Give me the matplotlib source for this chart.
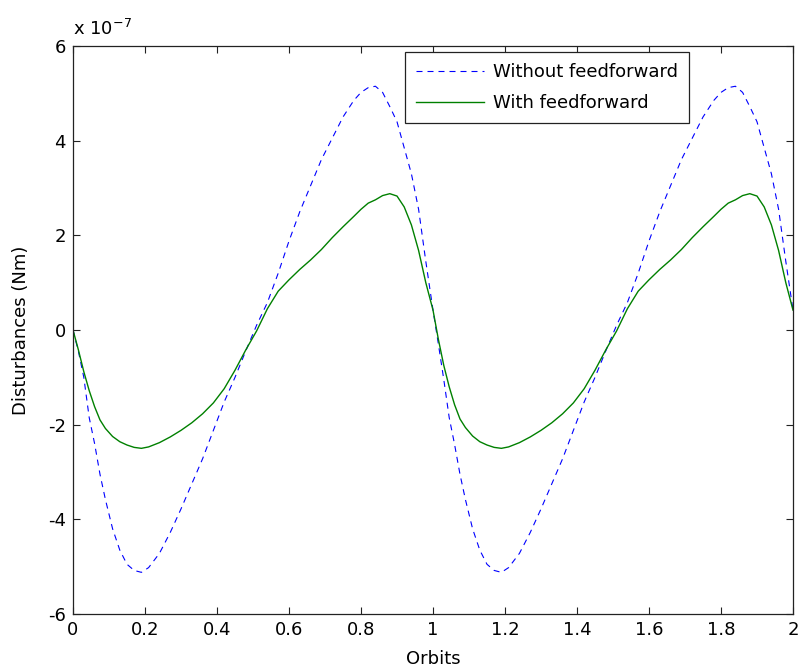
import numpy as np
import matplotlib
matplotlib.use("Agg")
import matplotlib.pyplot as plt
from matplotlib.ticker import FuncFormatter

# Orbit positions (shared by both curves)
orbits = [
    0.00, 0.015, 0.03, 0.045, 0.06, 0.075, 0.09, 0.11, 0.13, 0.15, 0.17, 0.19,
    0.21, 0.24, 0.27, 0.30, 0.33, 0.36, 0.39, 0.42, 0.45, 0.48, 0.51, 0.54,
    0.57, 0.60, 0.63, 0.66, 0.69, 0.72, 0.75, 0.78, 0.80, 0.82, 0.84, 0.86,
    0.88, 0.90, 0.92, 0.94, 0.96, 0.98, 1.00,
    1.015, 1.03, 1.045, 1.06, 1.075, 1.09, 1.11, 1.13, 1.15, 1.17, 1.19,
    1.21, 1.24, 1.27, 1.30, 1.33, 1.36, 1.39, 1.42, 1.45, 1.48, 1.51, 1.54,
    1.57, 1.60, 1.63, 1.66, 1.69, 1.72, 1.75, 1.78, 1.80, 1.82, 1.84, 1.86,
    1.88, 1.90, 1.92, 1.94, 1.96, 1.98, 2.00,
]

# Disturbance torque in units of 1e-7 Nm
without_ff = [
    0.00, -0.45, -1.00, -1.85, -2.40, -3.05, -3.58, -4.20, -4.65, -4.95, -5.08, -5.12,
    -5.02, -4.72, -4.28, -3.78, -3.25, -2.72, -2.12, -1.52, -1.00, -0.44, 0.10, 0.58,
    1.20, 1.88, 2.50, 3.05, 3.60, 4.05, 4.50, 4.85, 5.02, 5.12, 5.15, 5.02,
    4.72, 4.40, 3.85, 3.30, 2.55, 1.45, 0.42,
    -0.30, -1.05, -1.85, -2.42, -3.05, -3.58, -4.20, -4.65, -4.95, -5.08, -5.12,
    -5.02, -4.72, -4.28, -3.78, -3.25, -2.72, -2.12, -1.52, -1.00, -0.44, 0.10, 0.58,
    1.20, 1.88, 2.50, 3.05, 3.60, 4.05, 4.50, 4.85, 5.02, 5.12, 5.15, 5.02,
    4.72, 4.40, 3.85, 3.30, 2.55, 1.45, 0.42,
]

with_ff = [
    0.00, -0.42, -0.88, -1.28, -1.62, -1.90, -2.08, -2.25, -2.36, -2.43, -2.48, -2.50,
    -2.47, -2.38, -2.26, -2.12, -1.96, -1.77, -1.54, -1.24, -0.85, -0.42, -0.02, 0.45,
    0.82, 1.06, 1.28, 1.48, 1.70, 1.95, 2.18, 2.40, 2.55, 2.68, 2.75, 2.84,
    2.88, 2.83, 2.60, 2.22, 1.68, 1.00, 0.42,
    -0.20, -0.75, -1.20, -1.58, -1.88, -2.06, -2.24, -2.36, -2.43, -2.48, -2.50,
    -2.47, -2.38, -2.26, -2.12, -1.96, -1.77, -1.54, -1.24, -0.85, -0.42, -0.02, 0.45,
    0.82, 1.06, 1.28, 1.48, 1.70, 1.95, 2.18, 2.40, 2.55, 2.68, 2.75, 2.84,
    2.88, 2.83, 2.60, 2.22, 1.68, 1.00, 0.42,
]

scale = 1e-7
x_ticks = [0, 0.2, 0.4, 0.6, 0.8, 1, 1.2, 1.4, 1.6, 1.8, 2]
x_tick_labels = ["0", "0.2", "0.4", "0.6", "0.8", "1", "1.2", "1.4", "1.6", "1.8", "2"]
y_ticks = [-6, -4, -2, 0, 2, 4, 6]

plt.rcParams["font.family"] = "DejaVu Sans"
plt.rcParams["font.size"] = 13

fig = plt.figure(figsize=(8.01, 6.71), dpi=100)
ax = fig.add_axes([73 / 801, 1 - 614 / 671, 720 / 801, 568 / 671])

ax.plot(orbits, np.array(without_ff) * scale, color=(0, 0, 1), lw=0.8,
        dashes=(5.4, 4.5), label="Without feedforward")
ax.plot(orbits, np.array(with_ff) * scale, color=(0, 0.5, 0), lw=1.0,
        label="With feedforward")

ax.set_xlim(0, 2)
ax.set_ylim(-6 * scale, 6 * scale)
ax.set_xticks(x_ticks)
ax.set_xticklabels(x_tick_labels)
ax.set_yticks([t * scale for t in y_ticks])
ax.yaxis.set_major_formatter(FuncFormatter(lambda v, p: "%g" % round(v / scale, 6)))

ax.tick_params(direction="in", length=5, width=0.8, top=True, right=True,
               colors="#222222", labelcolor="black", pad=5)
for s in ax.spines.values():
    s.set_linewidth(0.9)
    s.set_color("#222222")

ax.set_xlabel("Orbits", labelpad=8)
ax.set_ylabel("Disturbances (Nm)", labelpad=13)
ax.text(0.0, 1.012, "x 10$^{-7}$", transform=ax.transAxes, fontsize=13,
        ha="left", va="bottom")

leg = ax.legend(loc="upper left", bbox_to_anchor=(405 / 801, 1 - 52 / 671),
                bbox_transform=fig.transFigure, borderaxespad=0,
                handlelength=3.8, handletextpad=0.5, labelspacing=0.75,
                borderpad=0.6, fancybox=False, framealpha=1,
                edgecolor="#222222")
leg.get_frame().set_linewidth(0.9)

fig.savefig("out.png", dpi=100)
